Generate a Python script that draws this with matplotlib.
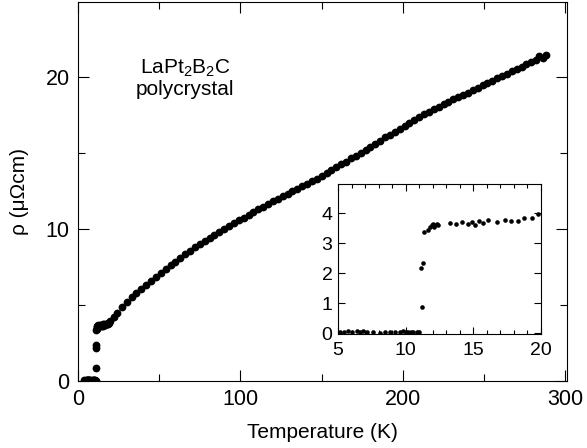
import matplotlib
matplotlib.use("Agg")
import matplotlib.pyplot as plt
import numpy as np

plt.rcParams['font.family'] = ['Liberation Sans', 'DejaVu Sans']
plt.rcParams['mathtext.fontset'] = 'custom'
plt.rcParams['mathtext.rm'] = 'Liberation Sans'
plt.rcParams['mathtext.it'] = 'Liberation Sans:italic'

# ---- data: low-temperature region (also shown in inset) ----
T_low = [3.7, 4.1, 4.5, 4.8, 5.15, 5.44, 5.76, 6.01, 6.38, 6.63, 6.87, 7.12, 7.61, 8.1, 8.47,
         8.84, 9.21, 9.58, 9.83, 10.03, 10.2, 10.37, 10.57, 10.82, 11.0,
         11.18, 11.13, 11.31, 11.36, 11.68, 11.8, 11.92, 12.04, 12.08, 12.16, 12.29, 12.41,
         13.28, 13.72, 14.14, 14.58, 14.93, 15.13, 15.45, 15.74, 16.11, 16.73, 17.34,
         17.79, 18.33, 18.77, 19.31, 19.8]
rho_low = [0.04, 0.02, 0.03, 0.05, 0.03, 0.05, 0.07, 0.04, 0.06, 0.05, 0.07, 0.04, 0.02, 0.01, 0.03,
           0.04, 0.05, 0.03, 0.06, 0.05, 0.04, 0.03, 0.03, 0.02, 0.03,
           0.86, 2.16, 2.35, 3.36, 3.43, 3.52, 3.60, 3.63, 3.52, 3.60, 3.65, 3.60,
           3.68, 3.63, 3.69, 3.63, 3.69, 3.60, 3.73, 3.68, 3.77, 3.71, 3.77,
           3.74, 3.74, 3.84, 3.84, 3.97]

# ---- data: higher-temperature region ----
T_high = [22, 24, 27, 30, 33, 36, 39, 42, 45, 48, 51, 54, 57, 60, 63, 66, 69, 72, 75, 78,
          81, 84, 87, 90, 93, 96, 99, 102, 105, 108, 111, 114, 117, 120, 123, 126, 129, 132,
          135, 138, 141, 144, 147, 150, 153, 156, 159, 162, 165, 168, 171, 174, 177, 180,
          183, 186, 189, 192, 195, 198, 201, 204, 207, 210, 213, 216, 219, 222, 225, 228,
          231, 234, 237, 240, 243, 246, 249, 252, 255, 258, 261, 264, 267, 270, 273, 276,
          279, 282, 284, 286, 288]
rho_high = [4.20, 4.50, 4.88, 5.20, 5.50, 5.80, 6.05, 6.32, 6.58, 6.83, 7.10, 7.36, 7.60, 7.84,
            8.08, 8.32, 8.56, 8.78, 9.00, 9.20, 9.40, 9.60, 9.80, 10.00, 10.20, 10.38, 10.56,
            10.74, 10.92, 11.10, 11.28, 11.46, 11.63, 11.80, 11.97, 12.14, 12.30, 12.47, 12.63,
            12.80, 12.96, 13.13, 13.30, 13.48, 13.66, 13.85, 14.04, 14.23, 14.42, 14.62, 14.81,
            15.00, 15.20, 15.40, 15.60, 15.80, 16.00, 16.18, 16.38, 16.58, 16.76, 16.95, 17.15,
            17.34, 17.52, 17.70, 17.86, 18.02, 18.18, 18.34, 18.50, 18.65, 18.80, 18.95, 19.10,
            19.25, 19.42, 19.58, 19.74, 19.90, 20.05, 20.20, 20.36, 20.52, 20.66, 20.80, 20.95,
            21.10, 21.35, 21.25, 21.45]

T_main = T_low + T_high
rho_main = rho_low + rho_high

fig = plt.figure(figsize=(5.87, 4.48), dpi=100)
ax = fig.add_axes([78/587, 1-381/448, (567-78)/587, (381-2)/448])
ax.plot(T_main, rho_main, 'o', color='black', ms=5.6, mec='none')
ax.set_xlim(0, 301)
ax.set_ylim(0, 24.9)
ax.set_xticks([0, 100, 200, 300])
ax.set_xticks([50, 150, 250], minor=True)
ax.set_yticks([0, 10, 20])
ax.set_yticks([5, 15], minor=True)
ax.tick_params(which='both', direction='in', top=True, right=True, labelsize=15.5)
ax.tick_params(axis='x', pad=6)
ax.tick_params(axis='y', pad=6)
ax.tick_params(which='major', length=8, width=0.8)
ax.tick_params(which='minor', length=5, width=0.8)
ax.set_xlabel('Temperature (K)', fontsize=15, labelpad=9)
ax.set_ylabel('ρ (μΩcm)', fontsize=15, labelpad=12)
for s in ax.spines.values():
    s.set_linewidth(0.8)
ax.text(66, 19.9, 'LaPt$_\\mathregular{2}$B$_\\mathregular{2}$C\npolycrystal',
        ha='center', va='center', fontsize=15, linespacing=1.1)

# inset
axi = fig.add_axes([338/587, 1-334/448, (541-338)/587, (334-184)/448])
axi.plot(T_low, rho_low, 'o', color='black', ms=3.3, mec='none')
axi.set_xlim(5, 20)
axi.set_ylim(-0.03, 4.97)
axi.set_xticks([5, 10, 15, 20])
axi.set_xticks(np.arange(6, 20, 1), minor=True)
axi.set_yticks([0, 1, 2, 3, 4])
axi.tick_params(which='both', direction='in', top=True, right=True, labelsize=14)
axi.tick_params(axis='x', pad=6)
axi.tick_params(axis='y', pad=4)
axi.tick_params(which='major', length=5, width=0.8)
axi.tick_params(which='minor', length=3, width=0.8)
for s in axi.spines.values():
    s.set_linewidth(0.8)

fig.savefig('out.png', dpi=100)
